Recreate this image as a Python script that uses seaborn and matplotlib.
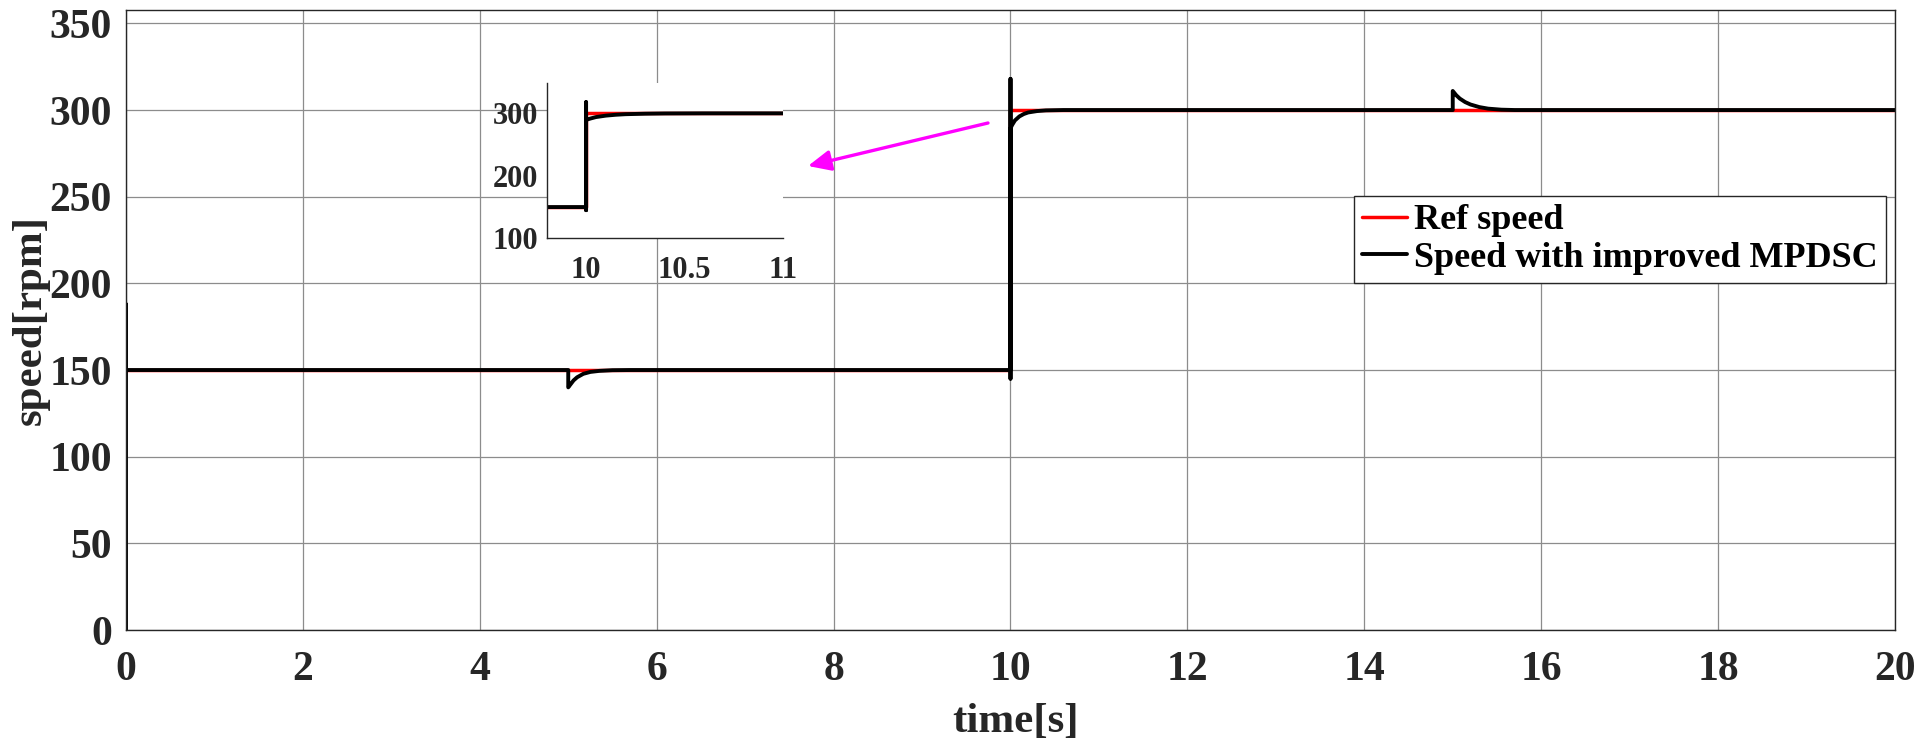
"""
Speed response of the improved MPDSC drive against the reference speed.
"""
import pandas as pd
import matplotlib
matplotlib.use('Agg')
import matplotlib.pyplot as plt
from matplotlib.lines import Line2D
import seaborn as sns

# reference speed (step at 10 s)
REF_T = [0, 10, 10, 20]
REF_V = [150, 150, 300, 300]

SPD_T = [0, 0, 0, 5, 5, 5.03, 5.06, 5.1, 5.17, 5.25, 5.35, 5.5, 5.7,
         10, 10, 10, 10, 10.02, 10.05, 10.1, 10.15, 10.2, 10.3, 10.4, 10.6,
         15, 15, 15.04, 15.08, 15.14, 15.2, 15.3, 15.4, 15.55, 15.7, 20]
SPD_V = [0, 188, 150, 150, 140, 142, 144, 145.8, 147.8, 148.9, 149.5, 149.9, 150,
         150, 318, 145, 289.5, 291.5, 294, 296.3, 297.7, 298.6, 299.4, 299.8, 300,
         300, 311, 308.5, 306.6, 304.6, 303.2, 301.7, 300.8, 300.2, 300, 300]

X_TICKS = list(range(0, 21, 2))
Y_TICKS = list(range(0, 351, 50))
INSET_X_TICKS = [10, 10.5, 11]
INSET_Y_TICKS = [100, 200, 300]

LABEL_REF = 'Ref speed'
LABEL_SPD = 'Speed with improved MPDSC'

LW_REF = 2.5
LW_SPD = 2.8


def draw_lines(ax):
    ref = pd.DataFrame({'t': REF_T, 'v': REF_V})
    spd = pd.DataFrame({'t': SPD_T, 'v': SPD_V})
    sns.lineplot(data=ref, x='t', y='v', ax=ax, color='#ff0000', linewidth=LW_REF,
                 sort=False, estimator=None)
    sns.lineplot(data=spd, x='t', y='v', ax=ax, color='black', linewidth=LW_SPD,
                 sort=False, estimator=None)


def main():
    sns.set_theme(style='white')
    plt.rcParams['font.family'] = ['Liberation Serif', 'DejaVu Serif']
    plt.rcParams['font.weight'] = 'bold'
    plt.rcParams['axes.labelweight'] = 'bold'

    fig = plt.figure(figsize=(19.2, 7.42), dpi=100)
    ax = fig.add_axes([0.065625, 0.15094, 0.92135, 0.83625])
    draw_lines(ax)

    ax.set_xlim(0, 20)
    ax.set_ylim(0, 358)
    ax.set_xticks(X_TICKS)
    ax.set_yticks(Y_TICKS)
    ax.grid(True, color='#8c8c8c', lw=0.9)
    ax.tick_params(axis='both', direction='in', labelsize=30, colors='#262626',
                   labelcolor='#262626', width=1)
    ax.tick_params(axis='x', length=12, pad=15)
    ax.tick_params(axis='y', length=17, pad=10)
    for s in ax.spines.values():
        s.set_color('#262626')
        s.set_linewidth(1)
    ax.set_xlabel('time[s]', fontsize=31, color='#262626')
    ax.xaxis.set_label_coords(0.503, -0.148, transform=ax.transAxes)
    ax.xaxis.label.set_va('center')
    ax.set_ylabel('speed[rpm]', fontsize=31, color='#262626', labelpad=0)

    handles = [Line2D([], [], color='#ff0000', lw=LW_REF),
               Line2D([], [], color='black', lw=LW_SPD)]
    leg = ax.legend(handles=handles, labels=[LABEL_REF, LABEL_SPD],
                    loc='upper left', bbox_to_anchor=(0.6942, 0.6994), fontsize=26,
                    frameon=True, fancybox=False, framealpha=1, edgecolor='#262626',
                    borderpad=0.22, handlelength=1.25, handletextpad=0.2,
                    labelspacing=0.12, borderaxespad=0)
    leg.get_frame().set_linewidth(1)
    for t in leg.get_texts():
        t.set_color('black')

    # zoom of the 10 s step
    ins = fig.add_axes([0.28474, 0.67884, 0.12307, 0.20970])
    draw_lines(ins)
    ins.set_xlim(9.8, 11)
    ins.set_ylim(100, 349)
    ins.set_xticks(INSET_X_TICKS)
    ins.set_xticklabels(['10', '10.5', '11'])
    ins.set_yticks(INSET_Y_TICKS)
    ins.set_xlabel('')
    ins.set_ylabel('')
    ins.grid(False)
    ins.set_facecolor('white')
    ins.tick_params(axis='both', direction='in', length=4, labelsize=22,
                    colors='#262626', width=1)
    ins.tick_params(axis='x', pad=13)
    ins.tick_params(axis='y', pad=6)
    ins.spines['top'].set_visible(False)
    ins.spines['right'].set_visible(False)
    for s in ('left', 'bottom'):
        ins.spines[s].set_color('#262626')
        ins.spines[s].set_linewidth(1)

    # pointer from the step to the inset
    ax.annotate('', xy=(808, 576), xycoords='figure pixels',
                xytext=(988, 619), textcoords='figure pixels',
                arrowprops=dict(arrowstyle='-|>,head_length=0.55,head_width=0.25',
                                color='#ff00ff', lw=2.4, mutation_scale=25,
                                shrinkA=0, shrinkB=0))

    plt.savefig('out.png', dpi=100)
    plt.close()


if __name__ == '__main__':
    main()
